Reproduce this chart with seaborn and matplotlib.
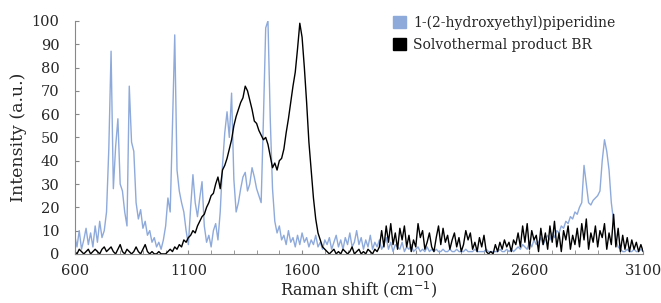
# Raman spectra: 1-(2-hydroxyethyl)piperidine vs. solvothermal product BR
import numpy as np
import pandas as pd
import matplotlib
matplotlib.use('Agg')
import matplotlib.pyplot as plt
import matplotlib.patches as mpatches
from matplotlib.ticker import MultipleLocator
import seaborn as sns

# eixo x: deslocamento Raman, 600-3100 cm-1, passo 10
shift = list(range(600, 3101, 10))

# 1-(2-hydroxyethyl)piperidine
hep = [
    8, 3, 10, 2, 6, 11, 4, 9, 3, 12, 5, 14, 7, 10,                 # 600-730
    18, 45, 87, 28, 46, 58, 30, 27, 18, 12,                        # 740-830
    72, 48, 44, 22, 15, 19, 11, 14, 8, 10,                         # 840-930
    5, 7, 3, 5, 2, 6, 12, 24, 18, 55,                              # 940-1030
    94, 36, 27, 22, 18, 10, 4, 20, 34, 22,                         # 1040-1130
    16, 24, 31, 12, 5, 8, 3, 10, 13, 6,                            # 1140-1230
    18, 38, 52, 61, 50, 69, 32, 18, 22, 28,                        # 1240-1330
    33, 35, 27, 30, 37, 33, 28, 25, 22, 58,                        # 1340-1430
    97, 100, 58, 28, 14, 9, 12, 6, 8, 4,                           # 1440-1530
    10, 5, 7, 3, 8, 4, 9, 5, 7, 3,                                 # 1540-1630
    6, 4, 8, 3, 5, 2, 6, 4, 7, 2,                                  # 1640-1730
    5, 8, 3, 6, 2, 7, 4, 9, 3, 5,                                  # 1740-1830
    10, 4, 7, 2, 6, 3, 8, 2, 5, 3,                                 # 1840-1930
    6, 2, 4, 7, 2, 5, 1, 4, 3, 2,                                  # 1940-2030
    5, 1, 3, 2, 4, 1, 2, 3, 1, 2,                                  # 2040-2130
    1, 3, 1, 2, 1, 2, 1, 1, 2, 1,                                  # 2140-2230
    1, 2, 1, 1, 2, 1, 1, 1, 2, 1,                                  # 2240-2330
    1, 1, 2, 1, 1, 1, 1, 2, 1, 1,                                  # 2340-2430
    1, 1, 1, 2, 1, 1, 2, 1, 2, 1,                                  # 2440-2530
    2, 3, 2, 4, 3, 2, 5, 3, 6, 4,                                  # 2540-2630
    5, 7, 4, 6, 8, 6, 9, 7, 10, 9,                                 # 2640-2730
    12, 11, 14, 13, 16, 15, 18, 17, 20, 22,                        # 2740-2830
    38, 30, 22, 21, 23, 24, 25, 27, 40, 49,                        # 2840-2930
    44, 36, 22, 14, 6, 3, 2, 1, 1, 2,                              # 2940-3030
    1, 1, 2, 1, 1, 2, 1,                                           # 3040-3100
]

# Solvothermal product BR
br = [
    1, 0, 2, 1, 0, 1, 2, 0, 1, 2,                                  # 600-690
    1, 0, 2, 3, 1, 2, 3, 1, 0, 2,                                  # 700-790
    4, 1, 0, 2, 1, 0, 1, 3, 1, 0,                                  # 800-890
    2, 4, 1, 0, 1, 0, 0, 1, 0, 0,                                  # 900-990
    0, 1, 2, 1, 3, 2, 4, 3, 6, 5,                                  # 1000-1090
    7, 8, 10, 9, 12, 14, 16, 17, 20, 22,                           # 1100-1190
    25, 26, 30, 33, 28, 36, 38, 41, 45, 49,                        # 1200-1290
    55, 59, 62, 65, 67, 72, 70, 66, 62, 57,                        # 1300-1390
    56, 53, 51, 49, 50, 47, 42, 37, 39, 36,                        # 1400-1490
    40, 41, 45, 52, 58, 65, 72, 78, 88, 99,                        # 1500-1590
    93, 80, 65, 48, 36, 24, 15, 9, 6, 3,                           # 1600-1690
    2, 1, 0, 1, 2, 0, 1, 0, 2, 1,                                  # 1700-1790
    0, 1, 3, 0, 1, 2, 0, 1, 0, 2,                                  # 1800-1890
    1, 0, 2, 1, 3, 10, 3, 12, 5, 13,                               # 1900-1990
    4, 9, 2, 11, 6, 12, 3, 8, 1, 6,                                # 2000-2090
    3, 13, 7, 10, 2, 5, 9, 3, 1, 7,                                # 2100-2190
    12, 4, 11, 5, 8, 2, 6, 9, 3, 7,                                # 2200-2290
    1, 4, 10, 6, 9, 2, 5, 1, 7, 3,                                 # 2300-2390
    8, 1, 0, 1, 0, 4, 1, 5, 2, 6,                                  # 2400-2490
    3, 5, 1, 6, 4, 9, 3, 12, 5, 13,                                # 2500-2590
    2, 10, 6, 8, 1, 11, 4, 9, 2, 12,                               # 2600-2690
    5, 14, 3, 9, 1, 10, 6, 12, 2, 8,                               # 2700-2790
    4, 11, 3, 13, 6, 15, 2, 9, 5, 12,                              # 2800-2890
    3, 10, 7, 13, 2, 9, 4, 17, 3, 11,                              # 2900-2990
    1, 8, 2, 7, 1, 6, 2, 5, 1, 4, 1,                               # 3000-3100
]

labels = ['1-(2-hydroxyethyl)piperidine', 'Solvothermal product BR']
colors = ['#8eaadb', '#000000']

df = pd.DataFrame({'shift': shift, labels[0]: hep, labels[1]: br})
long = df.melt(id_vars='shift', var_name='amostra', value_name='intensidade')

sns.set_style('ticks')
plt.rcParams['font.family'] = ['DejaVu Serif']

fig = plt.figure(figsize=(6.61, 3.03), dpi=100)
ax = fig.add_axes([0.113, 0.162, 0.86, 0.769])

sns.lineplot(data=long, x='shift', y='intensidade', hue='amostra',
             hue_order=labels, palette=colors, linewidth=1.0,
             legend=False, ax=ax)

ax.set_xlim(600, 3100)
ax.set_ylim(0, 100)
ax.set_xticks([600, 1100, 1600, 2100, 2600, 3100])
ax.xaxis.set_minor_locator(MultipleLocator(100))
ax.set_yticks(range(0, 101, 10))
ax.tick_params(axis='both', which='both', direction='in', color='#888888',
               labelsize=10.5)
ax.tick_params(axis='y', pad=11)
ax.tick_params(axis='x', pad=7)
ax.tick_params(axis='both', which='major', length=3)
ax.tick_params(axis='x', which='minor', length=3)
for s in ['left', 'bottom']:
    ax.spines[s].set_color('#888888')
    ax.spines[s].set_linewidth(0.8)
sns.despine(ax=ax)

ax.set_xlabel('Raman shift (cm$^{-1}$)', fontsize=11.5, labelpad=1)
ax.set_ylabel('Intensity (a.u.)', fontsize=12.5, labelpad=3)

handles = [mpatches.Patch(color=c, label=l) for c, l in zip(colors, labels)]
fig.legend(handles=handles, loc='upper left', bbox_to_anchor=(0.575, 0.99),
           frameon=False, fontsize=10, handlelength=1.0, handleheight=1.0,
           handletextpad=0.5, labelspacing=0.55)

fig.savefig('out.png', dpi=100)
